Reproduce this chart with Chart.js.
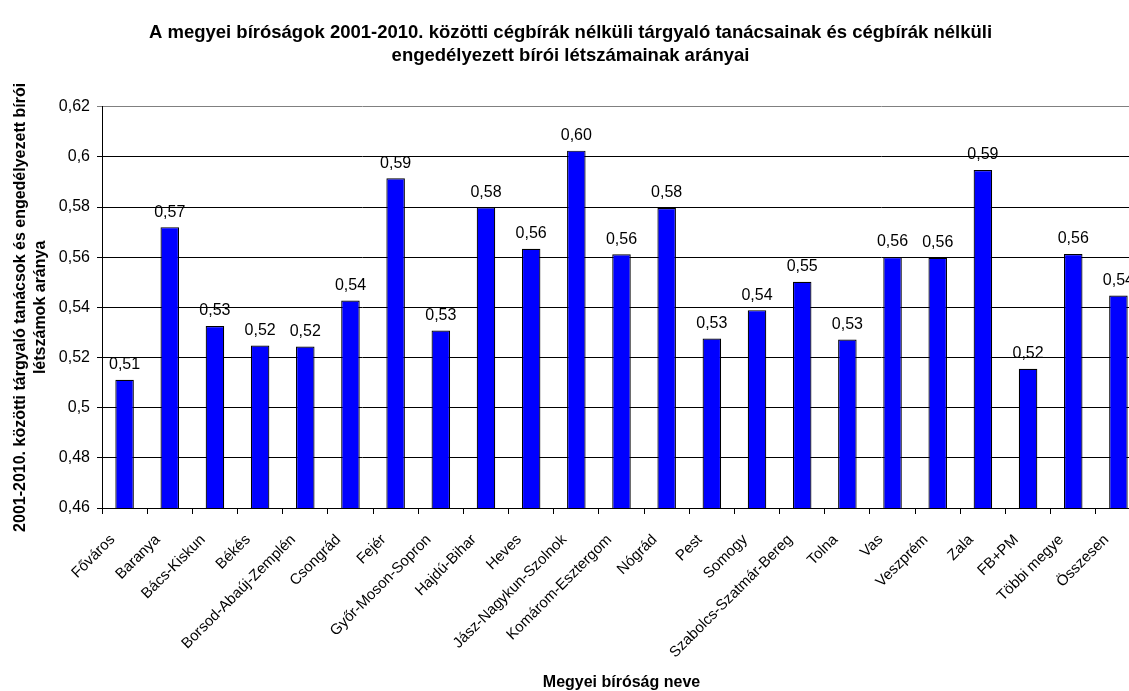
<!DOCTYPE html>
<html>
<head>
<meta charset="utf-8">
<script src="https://cdn.jsdelivr.net/npm/chart.js@4/dist/chart.umd.min.js"></script>
<style>
  html, body { margin: 0; padding: 0; background: #fff; overflow: hidden; }
  #wrap { width: 1150px; height: 691px; }
</style>
</head>
<body>
<div id="wrap"><canvas id="ratioChart"></canvas></div>
<script>
const courts = [
  'Főváros', 'Baranya', 'Bács-Kiskun', 'Békés', 'Borsod-Abaúj-Zemplén', 'Csongrád',
  'Fejér', 'Győr-Moson-Sopron', 'Hajdú-Bihar', 'Heves', 'Jász-Nagykun-Szolnok',
  'Komárom-Esztergom', 'Nógrád', 'Pest', 'Somogy', 'Szabolcs-Szatmár-Bereg', 'Tolna',
  'Vas', 'Veszprém', 'Zala', 'FB+PM', 'Többi megye', 'Összesen'
];
const ratios = [
  0.5111, 0.5720, 0.5326, 0.5248, 0.5244, 0.5427,
  0.5915, 0.5308, 0.5799, 0.5634, 0.6025,
  0.5612, 0.5796, 0.5276, 0.5389, 0.5502, 0.5272,
  0.5601, 0.5598, 0.5948, 0.5155, 0.5613, 0.5447
];
const yMin = 0.46;
const yMax = 0.62;
const yStep = 0.02;

const titleLines = [
  'A megyei bíróságok 2001-2010. közötti cégbírák nélküli tárgyaló tanácsainak és cégbírák nélküli',
  'engedélyezett bírói létszámainak arányai'
];
const yTitleLines = [
  '2001-2010. közötti tárgyaló tanácsok és engedélyezett bírói',
  'létszámok aránya'
];
const xTitle = 'Megyei bíróság neve';

const FONT = '"Liberation Sans", Arial, sans-serif';

function huNum(v, digits) {
  const s = digits === undefined ? String(parseFloat(v.toFixed(2))) : v.toFixed(digits);
  return s.replace('.', ',');
}

// value written above every bar
const barValueLabels = {
  id: 'barValueLabels',
  afterDatasetsDraw(chart) {
    const ctx = chart.ctx;
    const meta = chart.getDatasetMeta(0);
    ctx.save();
    ctx.font = '16px ' + FONT;
    ctx.fillStyle = '#000';
    ctx.textAlign = 'center';
    ctx.textBaseline = 'bottom';
    meta.data.forEach((bar, i) => {
      ctx.fillText(huNum(ratios[i], 2), bar.x, bar.y - 7);
    });
    ctx.restore();
  }
};

const ctx = document.getElementById('ratioChart').getContext('2d');

new Chart(ctx, {
  type: 'bar',
  data: {
    labels: courts,
    datasets: [{
      data: ratios,
      backgroundColor: '#0000FF',
      borderColor: '#000',
      borderWidth: 1.2,
      borderSkipped: 'bottom',
      categoryPercentage: 1,
      barPercentage: 0.41
    }]
  },
  options: {
    responsive: true,
    maintainAspectRatio: false,
    animation: false,
    layout: { padding: { top: 21, right: 9, bottom: 0, left: 0 } },
    plugins: {
      legend: { display: false },
      tooltip: { enabled: false },
      title: {
        display: true,
        text: titleLines,
        color: '#000',
        font: { family: FONT, size: 18.5, weight: 'bold', lineHeight: 1.25 },
        padding: { top: 0, bottom: 39.5 }
      }
    },
    scales: {
      x: {
        afterFit: scale => { scale.height = 183; },
        grid: {
          offset: true,
          drawOnChartArea: false,
          color: '#000',
          tickLength: 6
        },
        border: { color: '#000', width: 1 },
        ticks: {
          color: '#000',
          font: { family: FONT, size: 15 },
          autoSkip: false,
          maxRotation: 45,
          minRotation: 45,
          padding: 17,
          labelOffset: -12
        },
        title: {
          display: true,
          text: xTitle,
          color: '#000',
          font: { family: FONT, size: 16, weight: 'bold', lineHeight: 1 },
          padding: { top: 4, bottom: 0 }
        }
      },
      y: {
        min: yMin,
        max: yMax,
        afterFit: scale => { scale.width = 102; },
        grid: {
          color: c => (c.tick && c.tick.value >= yMax - 1e-9) ? '#808080' : '#000',
          tickLength: 5,
          lineWidth: 1
        },
        border: { color: '#000', width: 1 },
        ticks: {
          stepSize: yStep,
          color: '#000',
          font: { family: FONT, size: 16 },
          padding: 7,
          callback: v => huNum(v)
        },
        title: {
          display: true,
          text: yTitleLines,
          color: '#000',
          font: { family: FONT, size: 16, weight: 'bold', lineHeight: 1.25 },
          padding: { top: 11, bottom: 0 }
        }
      }
    }
  },
  plugins: [barValueLabels]
});
</script>
</body>
</html>
